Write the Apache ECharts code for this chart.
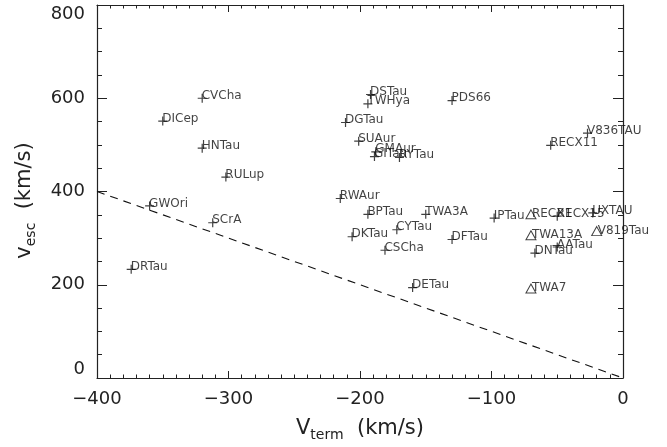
<!DOCTYPE html>
<html><head><meta charset="utf-8">
<script src="https://cdn.jsdelivr.net/npm/echarts@6/dist/echarts.min.js"></script>
<style>html,body{margin:0;padding:0;background:#fff}#c{width:667px;height:447px}</style>
</head><body><div id="c"></div>
<script>
const plusNames = ['CVCha','DICep','HNTau','RULup','GWOri','SCrA','DRTau','DSTau','TWHya','PDS66','DGTau','SUAur','GMAur','GITau','RYTau','RWAur','BPTau','TWA3A','DKTau','CYTau','CSCha','DFTau','DETau','V836TAU','RECX11','IPTau','RECX15','UXTAU','AATau','DNTau'];
const plusVterm = [-320,-350,-320,-302,-360,-312,-374,-192,-194,-130,-211,-201,-188,-189,-170,-215,-194,-150,-206,-172,-181,-130,-160,-27,-55,-98,-50,-23,-50,-67];
const plusVesc  = [600,551,493,431,369,333,233,608,588,595,548,508,485,475,473,385,351,351,303,318,274,297,194,525,499,343,347,354,281,268];
const triNames = ['RECX1','TWA13A','V819Tau','TWA7'];
const triVterm = [-70,-70,-20,-70];
const triVesc  = [351,306,315,192];
const refLineX = [-400, 0];
const refLineY = [400, 0];
const xTicks = [-400,-300,-200,-100,0];
const yTicks = [0,200,400,600,800];

const chart = echarts.init(document.getElementById('c'));
const ink = '#222';
const FONT = 'DejaVu Sans';
const symSize = 9;
function pts(names, xs, ys){ return names.map((n,i)=>({name:n, value:[xs[i], ys[i]]})); }
const labelCfg = {show:true, formatter:p=>p.name, position:[symSize/2+2, symSize/2+6], align:'left', verticalAlign:'bottom', fontFamily:FONT, fontSize:12, color:'#111'};
const baseAxis = {
  axisLine:{show:true, onZero:false, lineStyle:{color:ink, width:1.2}},
  splitLine:{show:false}
};
const fmt = v => String(v).replace('-', '\u2212');
const titleRich = {a:{fontFamily:FONT, fontSize:21, color:ink, lineHeight:26}, b:{fontFamily:FONT, fontSize:14, color:ink, verticalAlign:'bottom', lineHeight:18}};
chart.setOption({
  animation:false,
  grid:{left:97, right:44, top:5, bottom:69},
  xAxis:[
    Object.assign({}, baseAxis, {type:'value', position:'bottom', min:xTicks[0], max:xTicks[xTicks.length-1], interval:100,
      axisTick:{show:true, inside:true, length:7, lineStyle:{color:ink}},
      minorTick:{show:true, splitNumber:10, length:3.5, lineStyle:{color:ink}},
      axisLabel:{formatter:fmt, fontFamily:FONT, fontSize:18, color:ink, margin:12},
      name:'{a|V}{b|term}{a|  (km/s)}', nameLocation:'middle', nameGap:38,
      nameTextStyle:{rich:titleRich}
    }),
    Object.assign({}, baseAxis, {type:'value', position:'top', min:xTicks[0], max:xTicks[xTicks.length-1], interval:100,
      axisTick:{show:true, inside:true, length:7, lineStyle:{color:ink}},
      minorTick:{show:true, splitNumber:10, length:3.5, lineStyle:{color:ink}},
      axisLabel:{show:false}})
  ],
  yAxis:[
    Object.assign({}, baseAxis, {type:'value', position:'left', min:yTicks[0], max:yTicks[yTicks.length-1], interval:200,
      axisTick:{show:true, inside:true, length:10, lineStyle:{color:ink}},
      minorTick:{show:true, splitNumber:4, length:5, lineStyle:{color:ink}},
      axisLabel:{fontFamily:FONT, fontSize:18, color:ink, margin:12, verticalAlignMinLabel:'bottom', verticalAlignMaxLabel:'top'},
      name:'{a|v}{b|esc}{a|  (km/s)}', nameLocation:'middle', nameGap:59, nameRotate:90,
      nameTextStyle:{rich:titleRich, padding:[0,18,0,0]}
    }),
    Object.assign({}, baseAxis, {type:'value', position:'right', min:yTicks[0], max:yTicks[yTicks.length-1], interval:200,
      axisTick:{show:true, inside:true, length:10, lineStyle:{color:ink}},
      minorTick:{show:true, splitNumber:4, length:5, lineStyle:{color:ink}},
      axisLabel:{show:false}})
  ],
  series:[
    {type:'line', xAxisIndex:0, yAxisIndex:0, data:refLineX.map((x,i)=>[x, refLineY[i]]), symbol:'none', silent:true,
      lineStyle:{color:'#111', width:1.1, type:[8,6]}},
    {type:'scatter', xAxisIndex:0, yAxisIndex:0, data:pts(plusNames, plusVterm, plusVesc),
      symbol:'path://M0,5L10,5M5,0L5,10', symbolSize:symSize,
      itemStyle:{color:'none', borderColor:'#111', borderWidth:1.2}, label:labelCfg},
    {type:'scatter', xAxisIndex:0, yAxisIndex:0, data:pts(triNames, triVterm, triVesc),
      symbol:'triangle', symbolSize:[10,9],
      itemStyle:{color:'rgba(0,0,0,0)', borderColor:'#111', borderWidth:1}, label:labelCfg}
  ]
});
</script></body></html>
